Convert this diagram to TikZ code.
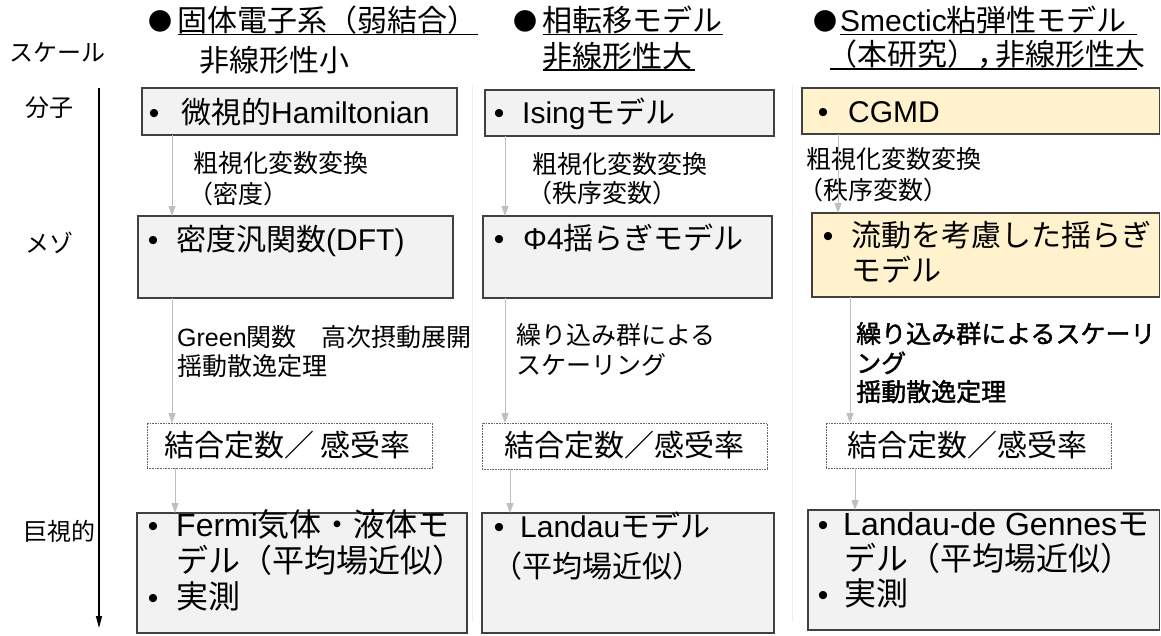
\documentclass[tikz,border=0pt]{standalone}
\usepackage{fontspec}
\setmainfont{Noto Sans CJK JP}
\newfontfamily\lat{Liberation Sans}
\newfontfamily\jpsemi[FakeBold=1.6]{Noto Sans CJK JP}
\usetikzlibrary{arrows.meta,fit}
\definecolor{boxgray}{HTML}{F2F2F2}
\definecolor{boxyel}{HTML}{FFF2CC}
\definecolor{edge}{HTML}{404040}
\definecolor{arrgray}{HTML}{BFBFBF}
\definecolor{sepgray}{HTML}{EDEDED}
\tikzset{
 gbox/.style={draw=edge, line width=1.2pt, fill=boxgray, inner sep=0pt, outer sep=0pt},
 ybox/.style={gbox, fill=boxyel},
 dbox/.style={draw=black!60, line width=0.8pt, dash pattern=on 0.8pt off 0.8pt, inner sep=0pt, outer sep=0pt},
 txt/.style={anchor=base west, inner sep=0pt, font=\fontsize{30}{36}\selectfont},
 txtl/.style={anchor=base west, inner sep=0pt, font=\fontsize{32}{38}\selectfont},
 lbl/.style={anchor=base west, inner sep=0pt, font=\fontsize{25}{30}\selectfont},
 lblb/.style={anchor=base west, inner sep=0pt, font=\fontsize{25}{30}\selectfont\jpsemi},
 scl/.style={anchor=base west, inner sep=0pt, font=\fontsize{24}{29}\selectfont},
 bul/.style={anchor=base, inner sep=0pt, font=\fontsize{30}{36}\selectfont\lat},
 dot/.style={anchor=center, inner sep=0pt, font=\fontsize{24}{29}\selectfont},
 conn/.style={draw=arrgray, line width=1pt, -{Triangle[length=10pt,width=7pt]}},
 axisarr/.style={draw=black, line width=1.4pt, -{Triangle[length=12pt,width=6pt]}},
 sepline/.style={draw=sepgray, line width=1pt},
 uline/.style={draw=black, line width=1.3pt},
}
\begin{document}
\begin{tikzpicture}[x=1pt,y=-1pt]
\useasboundingbox[fill=white] (0,0) rectangle (1161,635);
% separators
\draw[sepline] (472,85) -- (472,622);
\draw[sepline] (792,85) -- (792,622);
% scale axis
\coordinate (ax0) at (99,88);
\coordinate (ax1) at (99,628);
\draw[axisarr] (ax0) -- (ax1);
\node[scl] (s0) at (9,61) {スケール};
\node[scl] (s1) at (25,116.5) {分子};
\node[scl] (s2) at (25,252.5) {メゾ};
\node[scl] (s3) at (23,540.5) {巨視的};
% headers
\node[dot] (h1d) at (160,21) {●};
\node[txt] (h1a) at (177,31) {固体電子系（弱結合）};
\node[txt] (h1b) at (199,71) {非線形性小};
\draw[uline] (178,34.5) -- (478,34.5);
\node[dot] (h2d) at (525,21) {●};
\node[txt] (h2a) at (542,31) {相転移モデル};
\node[txt] (h2b) at (542,67) {非線形性大};
\draw[uline] (543,34.5) -- (723,34.5);
\draw[uline] (543,70) -- (695,70);
\node[dot] (h3d) at (825,21) {●};
\node[txt] (h3a) at (840,31) {{\lat Smectic}粘弾性モデル};
\node[txt] (h3b) at (827,65) {（本研究），\kern-12pt 非線形性大};
\draw[uline] (840,34.5) -- (1137,34.5);
\draw[uline] (830,69) -- (1137,69);
% boxes row 1
\node[gbox, fit={(142,88)(457,135)}] (b1) {};
\node[gbox, fit={(485,90)(774,136)}] (b2) {};
\node[ybox, fit={(802,88)(1159.5,134)}] (b3) {};
% boxes row 2
\node[gbox, fit={(138,216)(453,298)}] (b4) {};
\node[gbox, fit={(483,216)(772,298)}] (b5) {};
\node[ybox, fit={(812,213)(1159.5,297)}] (b6) {};
% dotted boxes
\node[dbox, fit={(147,423)(432,468)}] (d7) {};
\node[dbox, fit={(482,423)(767,469)}] (d8) {};
\node[dbox, fit={(826,423)(1111,468)}] (d9) {};
% boxes row 4
\node[gbox, fit={(137,513)(467,633)}] (b10) {};
\node[gbox, fit={(482,513)(774,633)}] (b11) {};
\node[gbox, fit={(808,510)(1159.5,630)}] (b12) {};
% box texts
\node[bul] (u1) at (154,123) {•};
\node[txt] (t1) at (181,123) {微視的{\lat Hamiltonian}};
\node[bul] (u2) at (499,123) {•};
\node[txt] (t2) at (522,123) {{\lat Ising}モデル};
\node[bul] (u3) at (823,122) {•};
\node[txt] (t3) at (848,122) {{\lat CGMD}};
\node[bul] (u4) at (153,250) {•};
\node[txt] (t4) at (176,250) {密度汎関数{\lat (DFT)}};
\node[bul] (u5) at (499,249) {•};
\node[txt] (t5) at (523,249) {{\lat Φ4}揺らぎモデル};
\node[bul] (u6) at (828,246) {•};
\node[txt] (t6a) at (851,246) {流動を考慮した揺らぎ};
\node[txt] (t6b) at (851,281.5) {モデル};
\node[txt] (t7) at (164,456.5) {結合定数／ 感受率};
\node[txt] (t8) at (504,456.5) {結合定数／感受率};
\node[txt] (t9) at (847,456.5) {結合定数／感受率};
\node[bul] (u10a) at (153,536.5) {•};
\node[txtl] (t10a) at (176,536.5) {{\lat Fermi}気体・液体モ};
\node[txtl] (t10b) at (176,572) {デル（平均場近似）};
\node[bul] (u10b) at (153,608) {•};
\node[txtl] (t10c) at (176,608) {実測};
\node[bul] (u11) at (499,537.5) {•};
\node[txt] (t11a) at (520,537.5) {{\lat Landau}モデル};
\node[txt] (t11b) at (492,577) {（平均場近似）};
\node[bul] (u12a) at (823,535.5) {•};
\node[txtl] (t12a) at (843,535.5) {{\lat Landau-de Gennes}モ};
\node[txtl] (t12b) at (844,570) {デル（平均場近似）};
\node[bul] (u12b) at (823,605) {•};
\node[txtl] (t12c) at (844,605) {実測};
% connector labels
\node[lbl] (l1a) at (193,172) {粗視化変数変換};
\node[lbl] (l1b) at (188,203.5) {（密度）};
\node[lbl] (l2a) at (532,173) {粗視化変数変換};
\node[lbl] (l2b) at (527,202.5) {（秩序変数）};
\node[lbl] (l3a) at (806,168) {粗視化変数変換};
\node[lbl] (l3b) at (798,199.5) {（秩序変数）};
\node[lbl] (l4a) at (177,346.5) {{\lat Green}関数　高次摂動展開};
\node[lbl] (l4b) at (177,375.5) {揺動散逸定理};
\node[lbl] (l5a) at (516,344.5) {繰り込み群による};
\node[lbl] (l5b) at (516,374) {スケーリング};
\node[lblb] (l6a) at (856,343) {繰り込み群によるスケーリ};
\node[lblb] (l6b) at (856,372.5) {ング};
\node[lblb] (l6c) at (856,401) {揺動散逸定理};
% connectors
\coordinate (x1) at (172,0);
\coordinate (x1b) at (175,0);
\coordinate (x2) at (505,0);
\coordinate (x2b) at (510,0);
\coordinate (x3) at (838,0);
\coordinate (x3a) at (850,0);
\coordinate (x3b) at (855,0);
\draw[conn] (b1.south -| x1) -- (b4.north -| x1);
\draw[conn] (b4.south -| x1) -- (d7.north -| x1);
\draw[conn] (d7.south -| x1b) -- (b10.north -| x1b);
\draw[conn] (b2.south -| x2) -- (b5.north -| x2);
\draw[conn] (b5.south -| x2) -- (d8.north -| x2);
\draw[conn] (d8.south -| x2b) -- (b11.north -| x2b);
\draw[conn] (b3.south -| x3) -- (b6.north -| x3);
\draw[conn] (b6.south -| x3a) -- (d9.north -| x3a);
\draw[conn] (d9.south -| x3b) -- (b12.north -| x3b);
\end{tikzpicture}
\end{document}
